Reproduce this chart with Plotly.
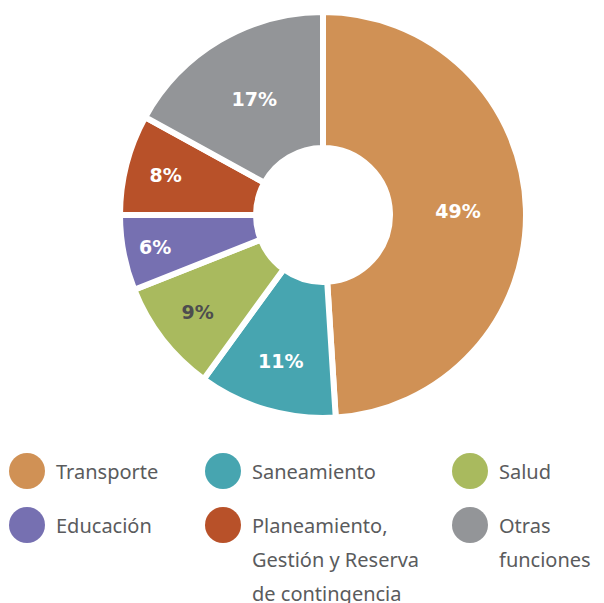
import plotly.graph_objects as go

categories = ['Transporte', 'Saneamiento', 'Salud', 'Educación',
              'Planeamiento, Gestión y Reserva de contingencia', 'Otras funciones']
shares = [49, 11, 9, 6, 8, 17]
colors = ['#D09155', '#47A5B0', '#A9BA5E', '#7670B1', '#B85129', '#939598']
label_colors = ['white', 'white', '#4d4d4f', 'white', 'white', 'white']
legend_lines = [['Transporte'], ['Saneamiento'], ['Salud'], ['Educación'],
                ['Planeamiento,', 'Gestión y Reserva', 'de contingencia'],
                ['Otras', 'funciones']]

W, H = 604, 603
fig = go.Figure()

fig.add_trace(go.Pie(
    values=shares, labels=categories, sort=False, direction='clockwise', rotation=0,
    hole=0.33,
    marker=dict(colors=colors, line=dict(color='white', width=6)),
    texttemplate='%{value}%', textposition='inside', insidetextorientation='horizontal',
    textfont=dict(family='DejaVu Sans, sans-serif', size=19, color=label_colors, weight='bold'),
    hoverinfo='label+percent', showlegend=False,
    domain=dict(x=[120 / W, 526 / W], y=[1 - 418 / H, 1 - 12 / H]),
))

# legend built as a 3 column grid
col_x = [27, 223, 470]
row_y = [471, 525]
mx, my = [], []
for i, name in enumerate(categories):
    mx.append(col_x[i % 3])
    my.append(row_y[i // 3])
fig.add_trace(go.Scatter(
    x=mx, y=my, mode='markers', showlegend=False, hoverinfo='skip',
    marker=dict(size=36, color=colors, line=dict(width=0)),
))

annotations = []
for i, lines in enumerate(legend_lines):
    for j, line in enumerate(lines):
        annotations.append(dict(
            x=mx[i] + 27, y=my[i] + j * 34, xref='x', yref='y',
            text=line, showarrow=False, xanchor='left', yanchor='middle',
            font=dict(family='Noto Sans, sans-serif', size=20, color='#5a5b5d'),
        ))

fig.update_layout(
    width=W, height=H, margin=dict(l=0, r=0, t=0, b=0),
    paper_bgcolor='white', plot_bgcolor='white',
    xaxis=dict(range=[0, W], visible=False, fixedrange=True),
    yaxis=dict(range=[H, 0], visible=False, fixedrange=True),
    annotations=annotations,
)

fig.write_html("out.html", config={'displayModeBar': False},
               post_script="document.body.style.margin='0';")
